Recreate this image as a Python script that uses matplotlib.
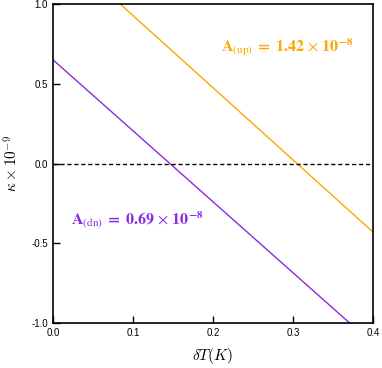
import matplotlib
matplotlib.use("Agg")
import matplotlib.pyplot as plt
import numpy as np

plt.rcParams['mathtext.fontset'] = 'cm'
plt.rcParams['font.family'] = ['Liberation Sans', 'DejaVu Sans']

x_up = [0.0, 0.4]
k_up = [1.38, -0.43]
x_dn = [0.0, 0.4]
k_dn = [0.65, -1.13]
xticks = [0.0, 0.1, 0.2, 0.3, 0.4]
yticks = [-1.0, -0.5, 0.0, 0.5, 1.0]
orange = '#FFA500'
purple = '#8A2BE2'

fig = plt.figure(figsize=(3.82, 3.68), dpi=100)
ax = fig.add_axes([53/382, 45/368, 320/382, 319/368])
ax.plot(x_up, k_up, color=orange, lw=1.0)
ax.plot(x_dn, k_dn, color=purple, lw=1.0)
ax.axhline(0, color='black', ls='--', lw=1.0, dashes=(3, 2))
ax.set_xlim(0, 0.4)
ax.set_ylim(-1, 1)
ax.set_xticks(xticks)
ax.set_yticks(yticks)
ax.set_xticklabels([f"{v:.1f}" for v in xticks])
ax.set_yticklabels([f"{v:.1f}" for v in yticks])
ax.tick_params(direction='in', length=5, width=1, labelsize=7, top=False, right=False)
for s in ax.spines.values():
    s.set_linewidth(1.2)
ax.set_xlabel(r'$\delta T(K)$', fontsize=11, labelpad=6)
ax.set_ylabel(r'$\kappa\times10^{-9}$', fontsize=11, labelpad=8)
ax.text(0.2925, 0.73, r'$\mathbf{A}_{\mathrm{(up)}}\;\mathbf{=}\;\mathbf{1.42}\,\times\,\mathbf{10}^{\mathbf{-8}}$',
        color=orange, fontsize=11.5, ha='center', va='center', math_fontfamily='stix')
ax.text(0.106, -0.36, r'$\mathbf{A}_{\mathrm{(dn)}}\;\mathbf{=}\;\mathbf{0.69}\,\times\,\mathbf{10}^{\mathbf{-8}}$',
        color=purple, fontsize=11.5, ha='center', va='center', math_fontfamily='stix')
fig.savefig('out.png', dpi=100)
